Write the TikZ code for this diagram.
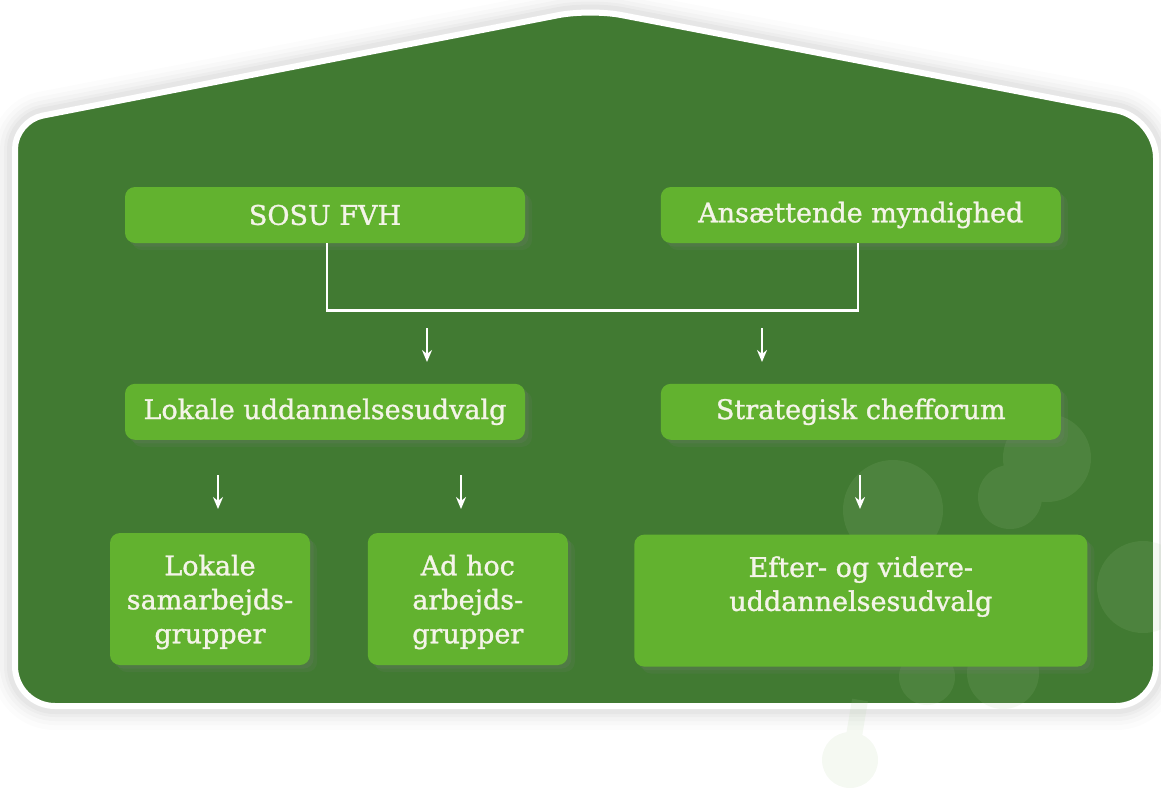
\documentclass[tikz,border=0pt]{standalone}
\usepackage{fontspec}
\setmainfont{DejaVu Serif}[FakeBold=1.2]
\usetikzlibrary{arrows.meta, positioning, shadows}

\definecolor{housegreen}{HTML}{417A32}
\definecolor{boxgreen}{HTML}{62B22F}
\definecolor{textwhite}{HTML}{F4F4E8}
\definecolor{blobgreen}{HTML}{A9CC95}

\begin{document}
\begin{tikzpicture}[
      x=0.5pt, y=-0.5pt,
      box/.style={rectangle, rounded corners=5pt, fill=boxgreen, text=textwhite, minimum width=200pt, minimum height=28pt, inner sep=0pt, align=center,
        drop shadow={opacity=0.12, shadow xshift=3.5pt, shadow yshift=-3.5pt}, drop shadow={opacity=0.15, shadow xshift=1.8pt, shadow yshift=-1.8pt}},
      tallbox/.style={box, minimum width=100pt, minimum height=66pt, text depth=0pt},
      arrow/.style={-{Stealth[length=6pt, width=5pt]}, line width=1.2pt, white},
      link/.style={line width=1.3pt, white},
      glow/.style={draw=black, opacity=#1},
      every node/.style={font=\fontsize{13.5}{17}\selectfont}
    ]
    \useasboundingbox (0,0) rectangle (1161,788);

    % House
    \path[fill=housegreen, draw=white, line width=3pt,
          preaction={glow=0.012, line width=24pt}, preaction={glow=0.016, line width=19pt}, preaction={glow=0.02, line width=15pt},
          preaction={glow=0.025, line width=11pt}, preaction={glow=0.03, line width=8pt}]
      (300,706) [rounded corners=20pt] -- (15,706) [rounded corners=14pt] -- (15,121) [rounded corners=16pt] -- (590,9) [rounded corners=20pt] -- (1156,118) [rounded corners=20pt] -- (1156,706) -- cycle;

    % Background blobs
    \begin{scope}[transparency group, opacity=0.12]
      \fill[blobgreen] (1047,458) circle (22pt) (1010,497) circle (16pt) (1143,587) circle (23pt)
        (927,677) circle (14pt) (1003,673) circle (18pt) (850,760) circle (14pt) (893,510) circle (25pt);
      \draw[blobgreen, line width=14pt] (1047,458) -- (1010,497);
      \draw[blobgreen, line width=8pt] (850,760) -- (860,700);
    \end{scope}

    % Top row
    \node[box] (sosu) at (325,215) {SOSU FVH};
    \node[box, right=67.5pt of sosu] (ansat) {Ansættende myndighed};

    % Middle row
    \node[box, below=70pt of sosu] (luu) {Lokale uddannelsesudvalg};
    \node[box, below=70pt of ansat] (scf) {Strategisk chefforum};

    % Bottom row
    \node[tallbox] (lsg) at (210,599) {Lokale\\samarbejds-\\grupper};
    \node[tallbox, right=28.5pt of lsg] (adhoc) {Ad hoc\\arbejds-\\grupper};
    \node[tallbox, minimum width=226.5pt, below=47pt of scf] (evu) {Efter- og videre-\\uddannelsesudvalg\\\mbox{}};

    % Link between top boxes
    \draw[link] ([xshift=1pt]sosu.south) -- ++(0,67) -| ([xshift=-1.5pt]ansat.south);

    % Arrows
    \foreach \n/\x/\y in {a/427/328, b/762/328, c/218/475, d/461/475, e/860/475} {
      \coordinate (\n top) at (\x,\y);
      \coordinate (\n tip) at (\x,\y+34);
      \draw[arrow] (\n top) -- (\n tip);
    }
  
\end{tikzpicture}
\end{document}
